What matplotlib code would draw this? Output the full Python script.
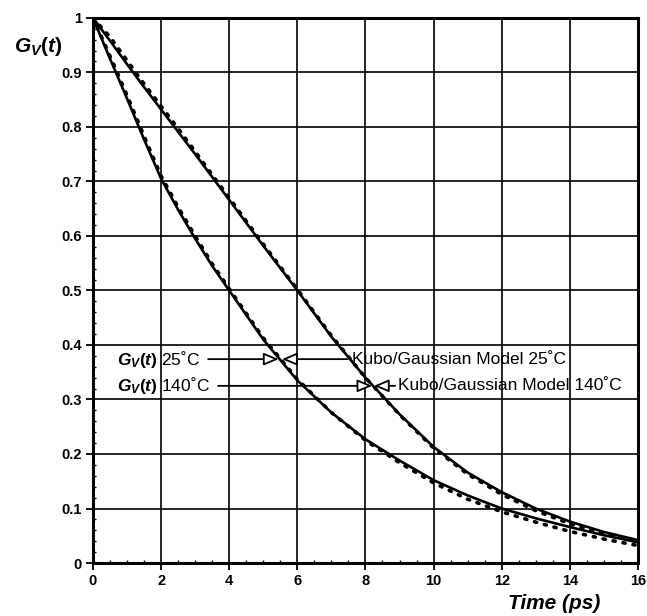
import matplotlib
matplotlib.use("Agg")
import matplotlib.pyplot as plt
from matplotlib.ticker import MultipleLocator

plt.rcParams["font.family"] = ["Liberation Sans", "DejaVu Sans"]
plt.rcParams["mathtext.fontset"] = "custom"
plt.rcParams["mathtext.it"] = "Liberation Sans:italic:bold"
plt.rcParams["mathtext.rm"] = "Liberation Sans:bold"

# time axis (ps)
t = [0, 0.5, 1, 1.5, 2, 2.5, 3, 3.5, 4, 5, 6, 7, 8, 9, 10, 11, 12, 13, 14, 15, 16]

# measured G_V(t) curves
gv_25 = [1.0, 0.925, 0.852, 0.777, 0.705, 0.648, 0.595, 0.545, 0.50, 0.41, 0.335,
         0.276, 0.227, 0.188, 0.152, 0.124, 0.10, 0.082, 0.066, 0.051, 0.038]
gv_140 = [1.0, 0.958, 0.915, 0.873, 0.832, 0.791, 0.75, 0.708, 0.666, 0.582, 0.50,
          0.415, 0.34, 0.273, 0.213, 0.166, 0.13, 0.10, 0.076, 0.057, 0.042]

# Kubo/Gaussian model fits
kubo_25 = [1.0, 0.93, 0.858, 0.783, 0.71, 0.653, 0.60, 0.549, 0.503, 0.413, 0.337,
           0.276, 0.225, 0.184, 0.147, 0.117, 0.094, 0.075, 0.058, 0.044, 0.032]
kubo_140 = [1.0, 0.965, 0.922, 0.879, 0.838, 0.797, 0.755, 0.712, 0.67, 0.585, 0.502,
            0.417, 0.34, 0.272, 0.211, 0.163, 0.126, 0.096, 0.072, 0.054, 0.04]

xticks = [0, 2, 4, 6, 8, 10, 12, 14, 16]
yticks = [0, 0.1, 0.2, 0.3, 0.4, 0.5, 0.6, 0.7, 0.8, 0.9, 1]
ytick_labels = ["0", "0.1", "0.2", "0.3", "0.4", "0.5", "0.6", "0.7", "0.8", "0.9", "1"]

fig = plt.figure(figsize=(6.47, 6.16), dpi=100)
ax = fig.add_axes([0.1437, 0.086, 0.8423, 0.885])

dots = (0, (0.6, 2.2))
ax.plot(t, kubo_25, color="black", lw=2.6, ls=dots, dash_capstyle="round", zorder=3)
ax.plot(t, kubo_140, color="black", lw=2.6, ls=dots, dash_capstyle="round", zorder=3)
ax.plot(t, gv_25, color="black", lw=1.9, zorder=4)
ax.plot(t, gv_140, color="black", lw=1.9, zorder=4)

ax.set_xlim(0, 16)
ax.set_ylim(0, 1)
ax.set_xticks(xticks)
ax.set_yticks(yticks)
ax.set_yticklabels(ytick_labels)
ax.xaxis.set_minor_locator(MultipleLocator(0.5))
ax.yaxis.set_minor_locator(MultipleLocator(0.02))
ax.tick_params(which="major", direction="out", length=5, width=1.3,
               labelsize=10.5, pad=3)
ax.tick_params(which="minor", direction="in", length=2.5, width=1.0)
for lab in ax.get_xticklabels() + ax.get_yticklabels():
    lab.set_fontweight("bold")

ax.grid(True, which="major", color="black", lw=1.2)
for side in ax.spines.values():
    side.set_linewidth(2.2)

# axis titles
fig.text(0.021, 0.925, r"$\mathit{G_V(t)}$", fontsize=15, ha="left", va="center")
fig.text(0.785, 0.02, "Time (ps)", fontsize=15, fontweight="bold",
         fontstyle="italic", ha="left", va="center")

# callouts: open arrow heads meeting on the curves
head = dict(arrowstyle="-|>,head_length=0.9,head_width=0.38",
            fc="white", ec="black", lw=1.3, shrinkA=0, shrinkB=0)
ax.annotate("", xy=(5.45, 0.374), xytext=(3.38, 0.374), arrowprops=head, zorder=5)
ax.annotate("", xy=(5.55, 0.374), xytext=(7.46, 0.374), arrowprops=head, zorder=5)
ax.annotate("", xy=(8.2, 0.325), xytext=(3.67, 0.325), arrowprops=head, zorder=5)
ax.annotate("", xy=(8.25, 0.325), xytext=(8.87, 0.325), arrowprops=head, zorder=5)

ax.text(3.14, 0.374, r"$\mathit{G_V(t)}$ 25˚C", fontsize=12.5, ha="right", va="center")
ax.text(3.44, 0.325, r"$\mathit{G_V(t)}$ 140˚C", fontsize=12.5, ha="right", va="center")
ax.text(7.6, 0.374, "Kubo/Gaussian Model 25˚C", fontsize=12.5, ha="left", va="center")
ax.text(8.95, 0.325, "Kubo/Gaussian Model 140˚C", fontsize=12.5, ha="left", va="center")

fig.savefig("out.png", dpi=100)
